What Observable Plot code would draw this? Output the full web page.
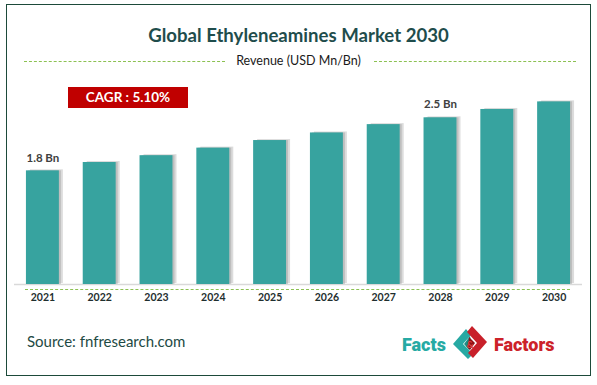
<!DOCTYPE html>
<html>
<head>
<meta charset="utf-8">
<script src="https://cdn.jsdelivr.net/npm/d3@7"></script>
<script src="https://cdn.jsdelivr.net/npm/@observablehq/plot@0.6"></script>
<style>
  html, body { margin: 0; padding: 0; background: #fff; }
  #wrap { position: relative; width: 597px; height: 385px; overflow: hidden; font-family: Lato, "Open Sans", sans-serif; }
  #frame { position: absolute; left: 6px; top: 4px; width: 585px; height: 372px; border: 1.5px solid #1d4a3a; box-sizing: border-box; }
  #title { position: absolute; left: 0; width: 597px; top: 24px; text-align: center; font-size: 18.6px; font-weight: 700; color: #1f4d4c; }
  #sub { position: absolute; left: 0; width: 597px; top: 53px; text-align: center; font-size: 12.5px; color: #1a1a1a; }
  .dash { position: absolute; top: 61px; height: 0; border-top: 1px dashed #8cc152; }
  #cagr { position: absolute; left: 68px; top: 87px; width: 120px; height: 21px; background: #c00000; color: #fff; font-weight: 700; font-size: 13.5px; line-height: 21px; text-align: center; }
  #gdash { position: absolute; left: 25px; top: 289px; width: 545px; border-top: 1px dashed #8cc152; }
  #source { position: absolute; left: 27px; top: 332px; font-size: 15px; color: #1e4a44; }
  #logo { position: absolute; left: 402px; top: 323px; height: 42px; display: flex; align-items: center; font-weight: 900; font-size: 18px; font-family: "Liberation Sans Narrow", "Roboto", sans-serif; }
  #chart { position: absolute; left: 0; top: 0; }
</style>
</head>
<body>
<div id="wrap">
  <div id="chart"></div>
  <div id="frame"></div>
  <div id="title">Global Ethyleneamines Market 2030</div>
  <div class="dash" style="left:24px;width:201px"></div>
  <div class="dash" style="left:374px;width:202px"></div>
  <div id="sub">Revenue (USD Mn/Bn)</div>
  <div id="cagr">CAGR : 5.10%</div>
  <div id="gdash"></div>
  <div id="source">Source: fnfresearch.com</div>
  <div id="logo">
    <span style="color:#26aaa4">Facts</span>
    <svg width="42" height="42" viewBox="0 0 42 42" style="margin:0 3px 0 3px">
      <path d="M17 6 L4 21 L19 36 L24 31 L14 21 L22 12 Z" fill="#27a9a3"/>
      <path d="M21 13 L15 21 L20 27 L23 24 Z" fill="#1c8c87"/>
      <path d="M23 3 L38 19 L24 35 L19 30 L28 20 L18 9 Z" fill="#c8202a"/>
      <path d="M20 14 L26 20 L21 27 L19 25 Z" fill="#8e1218"/>
      <text x="21" y="25" text-anchor="middle" font-size="10" font-weight="700" fill="#e04040" font-family="Lato, sans-serif">&amp;</text>
    </svg>
    <span style="color:#cc2229">Factors</span>
  </div>
</div>
<script>
const years = ["2021","2022","2023","2024","2025","2026","2027","2028","2029","2030"];
const revenue = [1.80, 1.91, 2.00, 2.10, 2.20, 2.30, 2.41, 2.50, 2.61, 2.71];
const valueLabels = ["1.8 Bn", "", "", "", "", "", "", "2.5 Bn", "", ""];
const baseValue = 0.3;

const data = years.map((y, i) => ({year: y, value: revenue[i], label: valueLabels[i]}));

const chart = Plot.plot({
  width: 597,
  height: 385,
  marginLeft: 14,
  marginRight: 15,
  marginTop: 87,
  marginBottom: 101,
  style: {background: "transparent", fontFamily: "Lato, sans-serif"},
  x: {domain: years, paddingInner: 0.42, paddingOuter: 0.21, round: false, label: null},
  y: {domain: [baseValue, 2.9], axis: null},
  marks: [
    Plot.ruleY([baseValue], {stroke: "#d9d9d9", strokeWidth: 1.5}),
    Plot.barY(data, {x: "year", y1: baseValue, y2: "value", fill: "#9a9a9a", fillOpacity: 0.35, dx: 4, dy: -1}),
    Plot.barY(data, {x: "year", y1: baseValue, y2: "value", fill: "#9a9a9a", fillOpacity: 0.45, dx: 2}),
    Plot.barY(data, {x: "year", y1: baseValue, y2: "value", fill: "#37a39f"}),
    Plot.text(data.filter(d => d.label), {x: "year", y: "value", text: "label", dy: -13, fontSize: 11.5, fontWeight: 700, fill: "#404040"}),
    Plot.axisX({tickSize: 0, tickPadding: 9, fontSize: 10.5, fontWeight: 700, color: "#1f2f2f", label: null})
  ]
});
document.getElementById("chart").appendChild(chart);
</script>
</body>
</html>
